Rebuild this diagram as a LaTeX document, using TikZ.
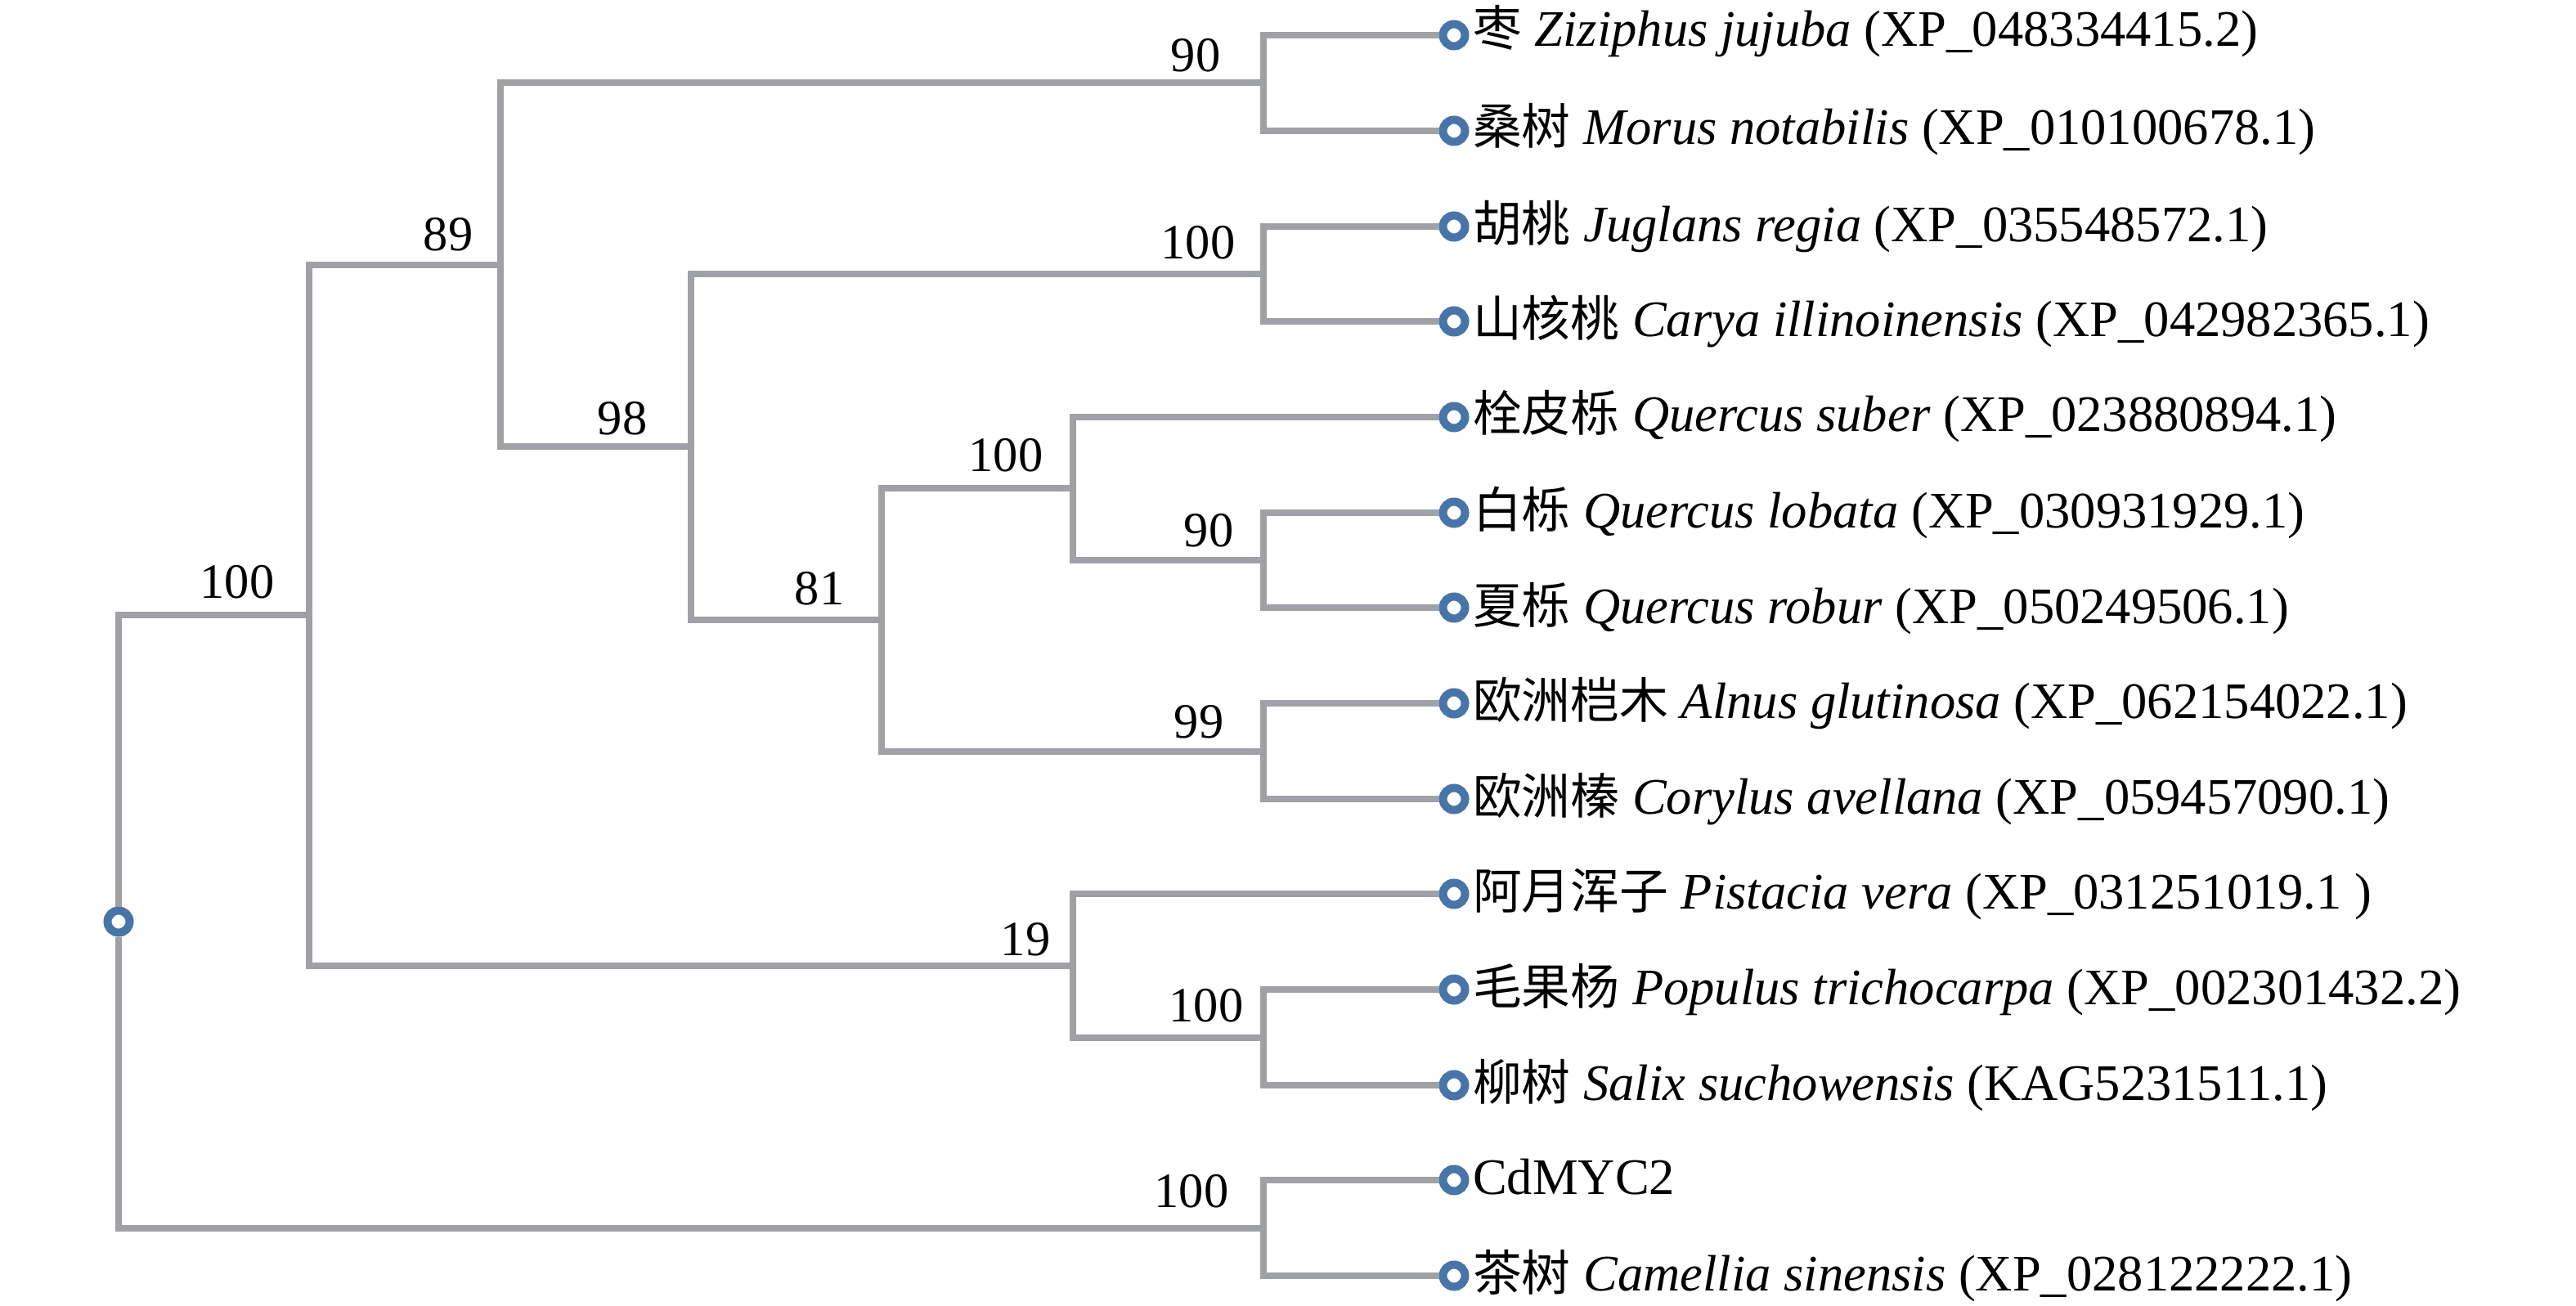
\documentclass[tikz,border=0pt]{standalone}
\usepackage{fontspec}
\setmainfont{Liberation Serif}
\newfontfamily\cjk{Noto Sans CJK SC}
\usetikzlibrary{positioning}

\definecolor{branchgray}{RGB}{160,161,165}
\definecolor{tipblue}{RGB}{72,117,168}

% Chinese name, Latin name, accession
\newcommand{\leafname}[3]{{\cjk\fontsize{17}{21}\selectfont #1} \textit{#2} (#3)}

\tikzset{
    branch/.style={draw=branchgray, line width=0.08cm},
    tip/.style={circle, draw=tipblue, fill=white, line width=0.1cm,
        minimum size=0.27cm, inner sep=0pt},
    taxon/.style={anchor=base west, inner sep=0pt, font=\fontsize{17.8}{21}\selectfont},
    support/.style={inner sep=0pt, font=\fontsize{17.2}{20}\selectfont}
}

\begin{document}
\begin{tikzpicture}
    \useasboundingbox (0,0) rectangle (31.5,-15.97);

    % Tips of the tree
    \node [tip] (l1)  at (17.78,-0.43)  {};
    \node [tip] (l2)  at (17.78,-1.60)  {};
    \node [tip] (l3)  at (17.78,-2.77)  {};
    \node [tip] (l4)  at (17.78,-3.93)  {};
    \node [tip] (l5)  at (17.78,-5.10)  {};
    \node [tip] (l6)  at (17.78,-6.27)  {};
    \node [tip] (l7)  at (17.78,-7.43)  {};
    \node [tip] (l8)  at (17.78,-8.60)  {};
    \node [tip] (l9)  at (17.78,-9.77)  {};
    \node [tip] (l10) at (17.78,-10.93) {};
    \node [tip] (l11) at (17.78,-12.10) {};
    \node [tip] (l12) at (17.78,-13.27) {};
    \node [tip] (l13) at (17.78,-14.43) {};
    \node [tip] (l14) at (17.78,-15.60) {};

    % Species names
    \node [taxon] (t1)  at ([xshift=0.04cm,yshift=-0.14cm]l1.east)  {\leafname{枣}{Ziziphus jujuba}{XP\_048334415.2}};
    \node [taxon] (t2)  at ([xshift=0.04cm,yshift=-0.17cm]l2.east)  {\leafname{桑树}{Morus notabilis}{XP\_010100678.1}};
    \node [taxon] (t3)  at ([xshift=0.04cm,yshift=-0.19cm]l3.east)  {\leafname{胡桃}{Juglans regia}{XP\_035548572.1}};
    \node [taxon] (t4)  at ([xshift=0.04cm,yshift=-0.19cm]l4.east)  {\leafname{山核桃}{Carya illinoinensis}{XP\_042982365.1}};
    \node [taxon] (t5)  at ([xshift=0.04cm,yshift=-0.18cm]l5.east)  {\leafname{栓皮栎}{Quercus suber}{XP\_023880894.1}};
    \node [taxon] (t6)  at ([xshift=0.04cm,yshift=-0.18cm]l6.east)  {\leafname{白栎}{Quercus lobata}{XP\_030931929.1}};
    \node [taxon] (t7)  at ([xshift=0.04cm,yshift=-0.19cm]l7.east)  {\leafname{夏栎}{Quercus robur}{XP\_050249506.1}};
    \node [taxon] (t8)  at ([xshift=0.04cm,yshift=-0.18cm]l8.east)  {\leafname{欧洲桤木}{Alnus glutinosa}{XP\_062154022.1}};
    \node [taxon] (t9)  at ([xshift=0.04cm,yshift=-0.18cm]l9.east)  {\leafname{欧洲榛}{Corylus avellana}{XP\_059457090.1}};
    \node [taxon] (t10) at ([xshift=0.04cm,yshift=-0.18cm]l10.east) {\leafname{阿月浑子}{Pistacia vera}{XP\_031251019.1 }};
    \node [taxon] (t11) at ([xshift=0.04cm,yshift=-0.18cm]l11.east) {\leafname{毛果杨}{Populus trichocarpa}{XP\_002301432.2}};
    \node [taxon] (t12) at ([xshift=0.04cm,yshift=-0.18cm]l12.east) {\leafname{柳树}{Salix suchowensis}{KAG5231511.1}};
    \node [taxon] (t13) at ([xshift=0.04cm,yshift=-0.17cm]l13.east) {CdMYC2};
    \node [taxon] (t14) at ([xshift=0.04cm,yshift=-0.18cm]l14.east) {\leafname{茶树}{Camellia sinensis}{XP\_028122222.1}};

    % Internal nodes (each halfway between its two children)
    \coordinate (nC) at (15.45,-1.015);
    \coordinate (nE) at (15.45,-3.35);
    \coordinate (nH) at (15.45,-6.85);
    \coordinate (nG) at (13.12,-5.975);
    \coordinate (nI) at (15.45,-9.185);
    \coordinate (nF) at (10.78,-7.58);
    \coordinate (nD) at (8.45,-5.465);
    \coordinate (nB) at (6.12,-3.24);
    \coordinate (nK) at (15.45,-12.685);
    \coordinate (nJ) at (13.12,-11.8075);
    \coordinate (nA) at (3.78,-7.524);
    \coordinate (nL) at (15.45,-15.015);
    \node [tip] (root) at (1.45,-11.27) {};

    % Branches
    \draw [branch] (l1) -| (nC) |- (l2);
    \draw [branch] (l3) -| (nE) |- (l4);
    \draw [branch] (l6) -| (nH) |- (l7);
    \draw [branch] (l5) -| (nG) |- (nH);
    \draw [branch] (l8) -| (nI) |- (l9);
    \draw [branch] (nG) -| (nF) |- (nI);
    \draw [branch] (nE) -| (nD) |- (nF);
    \draw [branch] (nC) -| (nB) |- (nD);
    \draw [branch] (l11) -| (nK) |- (l12);
    \draw [branch] (l10) -| (nJ) |- (nK);
    \draw [branch] (nB) -| (nA) |- (nJ);
    \draw [branch] (l13) -| (nL) |- (l14);
    \draw [branch] (nA) -| (root) |- (nL);

    % Bootstrap support values
    \node [support, above left=0.13cm and 0.52cm of nC] (sC) {90};
    \node [support, above left=0.16cm and 0.33cm of nB] (sB) {89};
    \node [support, above left=0.17cm and 0.34cm of nE] (sE) {100};
    \node [support, above left=0.14cm and 0.53cm of nD] (sD) {98};
    \node [support, above left=0.20cm and 0.36cm of nG] (sG) {100};
    \node [support, above left=0.15cm and 0.36cm of nH] (sH) {90};
    \node [support, above left=0.17cm and 0.45cm of nF] (sF) {81};
    \node [support, above left=0.20cm and 0.42cm of nA] (sA) {100};
    \node [support, above left=0.15cm and 0.48cm of nI] (sI) {99};
    \node [support, above left=0.11cm and 0.27cm of nJ] (sJ) {19};
    \node [support, above left=0.18cm and 0.24cm of nK] (sK) {100};
    \node [support, above left=0.24cm and 0.42cm of nL] (sL) {100};
\end{tikzpicture}
\end{document}
